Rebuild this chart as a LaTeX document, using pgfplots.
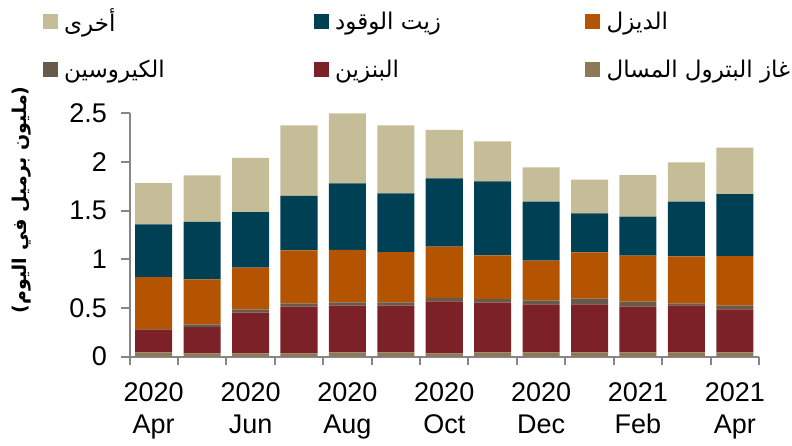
\documentclass[border=0pt]{standalone}
\usepackage{pgfplots}
\usepackage{pgfplotstable}
\pgfplotsset{compat=1.18}
\usepackage{fontspec}
\setmainfont{Liberation Sans}
\newfontfamily\arabicfont[Script=Arabic]{DejaVu Sans}
\TeXXeTstate=1

\definecolor{lpg}{RGB}{141,120,88}
\definecolor{gasoline}{RGB}{124,33,40}
\definecolor{kerosene}{RGB}{104,90,75}
\definecolor{diesel}{RGB}{181,84,0}
\definecolor{fueloil}{RGB}{0,64,84}
\definecolor{other}{RGB}{196,189,151}
\definecolor{axisgray}{RGB}{134,134,134}

\newcommand{\ar}[2][245pt]{\makebox[#1][l]{\arabicfont\beginR #2\endR}}

% million barrels per day, Apr 2020 .. Apr 2021
\pgfplotstableread{
x lpg   gas   ker   dsl   fuel  oth
0 0.045 0.232 0.005 0.535 0.541 0.424
1 0.034 0.271 0.027 0.463 0.589 0.479
2 0.034 0.418 0.034 0.428 0.572 0.555
3 0.034 0.480 0.034 0.544 0.559 0.726
4 0.045 0.479 0.034 0.538 0.685 0.719
5 0.045 0.479 0.034 0.517 0.603 0.699
6 0.034 0.534 0.035 0.527 0.702 0.497
7 0.045 0.510 0.037 0.449 0.760 0.411
8 0.045 0.493 0.041 0.407 0.606 0.353
9 0.045 0.493 0.058 0.476 0.401 0.345
10 0.045 0.469 0.051 0.473 0.400 0.428
11 0.045 0.482 0.021 0.483 0.561 0.405
12 0.045 0.441 0.038 0.510 0.637 0.476
}\data

\begin{document}
\begin{tikzpicture}
\useasboundingbox (0,0) rectangle (792pt,445pt);
\begin{axis}[
  at={(129.5pt,88.3pt)}, anchor=south west,
  scale only axis, width=629.5pt, height=243.4pt,
  ybar stacked, bar width=0.765,
  xmin=-0.5, xmax=12.5, ymin=0, ymax=2.5,
  ytick={0,0.5,...,2.5},
  xtick={0,2,...,12},
  xticklabels={2020\\Apr,2020\\Jun,2020\\Aug,2020\\Oct,2020\\Dec,2021\\Feb,2021\\Apr},
  minor xtick={-0.5,0.5,...,12.5},
  axis x line*=bottom, axis y line*=left,
  axis line style={-, axisgray, line width=2pt},
  tick align=outside,
  major tick length=8pt, minor tick length=8pt,
  major x tick style={draw=none},
  minor x tick style={axisgray, line width=2pt},
  major y tick style={axisgray, line width=2pt},
  /pgf/number format/assume math mode=true,
  ticklabel style={font=\fontsize{27}{32}\selectfont, black},
  xticklabel style={align=center, yshift=-14pt},
  yticklabel style={xshift=-11pt},
  legend image code/.code={\fill[#1] (0pt,-7.5pt) rectangle (15pt,7.5pt);},
  reverse legend,
  legend columns=3,
  legend style={at={(-0.1374,1.43)}, anchor=north west, draw=none, fill=none,
    font=\fontsize{23}{27}\selectfont, inner sep=0pt,
    row sep=27pt, column sep=0pt,
    nodes={inner sep=0pt, anchor=west},
    /tikz/every odd column/.append style={column sep=6pt}},
]
\addplot[fill=lpg, draw=none] table[x=x, y=lpg] {\data};
\addlegendentry{\ar[0pt]{غاز البترول المسال}}
\addplot[fill=gasoline, draw=none] table[x=x, y=gas] {\data};
\addlegendentry{\ar[250pt]{البنزين}}
\addplot[fill=kerosene, draw=none] table[x=x, y=ker] {\data};
\addlegendentry{\ar[250pt]{الكيروسين}}
\addplot[fill=diesel, draw=none] table[x=x, y=dsl] {\data};
\addlegendentry{\ar[0pt]{الديزل}}
\addplot[fill=fueloil, draw=none] table[x=x, y=fuel] {\data};
\addlegendentry{\ar[250pt]{زيت الوقود}}
\addplot[fill=other, draw=none] table[x=x, y=oth] {\data};
\addlegendentry{\ar[250pt]{أخرى}}
\end{axis}
\node[rotate=90, font=\arabicfont\bfseries\fontsize{19}{22}\selectfont] at (22pt,245pt)
  {\beginR(مليون برميل في اليوم)\endR};
\end{tikzpicture}
\end{document}
